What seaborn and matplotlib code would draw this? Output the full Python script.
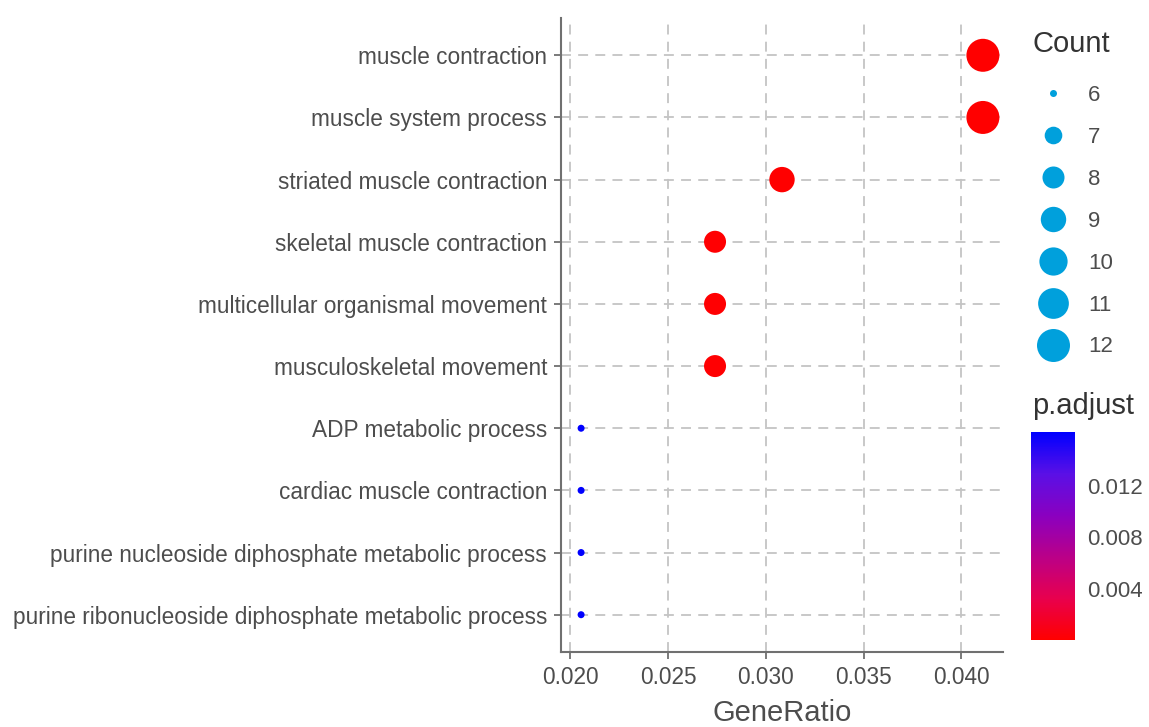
import numpy as np
import pandas as pd
import matplotlib
matplotlib.use("Agg")
import matplotlib.pyplot as plt
from matplotlib.colors import LinearSegmentedColormap, Normalize
from matplotlib.lines import Line2D
import seaborn as sns

# enrichment result (top 10 GO terms)
terms = [
    "muscle contraction",
    "muscle system process",
    "striated muscle contraction",
    "skeletal muscle contraction",
    "multicellular organismal movement",
    "musculoskeletal movement",
    "ADP metabolic process",
    "cardiac muscle contraction",
    "purine nucleoside diphosphate metabolic process",
    "purine ribonucleoside diphosphate metabolic process",
]
counts = [12, 12, 9, 8, 8, 8, 6, 6, 6, 6]
gene_ratio = [c / 292 for c in counts]
p_adjust = [2.0e-6, 2.0e-6, 1.5e-5, 9.0e-5, 9.0e-5, 9.0e-5, 0.0162, 0.0162, 0.0162, 0.0162]
count_levels = [6, 7, 8, 9, 10, 11, 12]
cbar_ticks = [0.004, 0.008, 0.012]

df = pd.DataFrame({"Description": terms, "GeneRatio": gene_ratio,
                   "Count": counts, "p.adjust": p_adjust})

sns.set_theme(style="white")
plt.rcParams["font.family"] = ["Liberation Sans", "DejaVu Sans"]

TXT = "#4D4D4D"
AX_COL = "#707070"

# red -> blue through purple (Lab-like)
cmap = LinearSegmentedColormap.from_list(
    "padj", ["#FF0000", "#E8004E", "#BA0088", "#8A00C0", "#5A10E6", "#0000FF"])
norm = Normalize(vmin=min(p_adjust), vmax=max(p_adjust))


# ggplot-like area scaling: diameter in px
def size_px(c, lo=min(count_levels), hi=max(count_levels), dmin=7.0, dmax=33.0):
    return dmin + (dmax - dmin) * np.sqrt((c - lo) / (hi - lo))


px2pt = 72 / 100
size_map = {c: (size_px(c) * px2pt) ** 2 for c in count_levels}

fig = plt.figure(figsize=(11.49, 7.27), dpi=100)
ax = fig.add_axes([561 / 1149, 1 - 652 / 727, (1003 - 561) / 1149, (652 - 18) / 727])

ax.grid(True, linestyle=(0, (5.5, 4)), color="#C4C4C4", linewidth=1.3)
ax.set_axisbelow(True)

sns.scatterplot(data=df, x="GeneRatio", y="Description", hue="p.adjust",
                palette=cmap, hue_norm=norm, size="Count", sizes=size_map,
                linewidth=0, alpha=1, legend=False, ax=ax, zorder=3)

xr = max(gene_ratio) - min(gene_ratio)
ax.set_xlim(min(gene_ratio) - 0.05 * xr, max(gene_ratio) + 0.05 * xr)
ax.set_ylim(len(terms) - 1 + 0.6, -0.6)
ax.set_xticks([0.020, 0.025, 0.030, 0.035, 0.040])
ax.set_xticklabels(["0.020", "0.025", "0.030", "0.035", "0.040"])

for side in ["top", "right"]:
    ax.spines[side].set_visible(False)
for side in ["left", "bottom"]:
    ax.spines[side].set_color(AX_COL)
    ax.spines[side].set_linewidth(1.5)
ax.tick_params(axis="both", which="both", direction="out", length=5, width=1.3,
               color=AX_COL, labelcolor=TXT, labelsize=16.3, pad=5,
               left=True, bottom=True)
ax.set_xlabel("GeneRatio", fontsize=21, color=TXT, labelpad=7)
ax.set_ylabel("")

# Count legend
handles = [Line2D([], [], linestyle="none", marker="o", markersize=size_px(c) * px2pt,
                  markerfacecolor="#00A0DC", markeredgewidth=0) for c in count_levels]
leg = fig.legend(handles, [str(c) for c in count_levels],
                 loc="upper left", bbox_to_anchor=(1020 / 1149, 1 - 74 / 727),
                 frameon=False, fontsize=16, labelspacing=0.94,
                 handletextpad=0.55, borderpad=0)
for t in leg.get_texts():
    t.set_color(TXT)
fig.text(1033 / 1149, 1 - 44 / 727, "Count", fontsize=21, color="#333333",
         ha="left", va="center")

# p.adjust colorbar
cax = fig.add_axes([1031 / 1149, 1 - 640 / 727, 44 / 1149, 208 / 727])
sm = plt.cm.ScalarMappable(cmap=cmap, norm=norm)
cb = fig.colorbar(sm, cax=cax, ticks=cbar_ticks)
cb.outline.set_visible(False)
cb.ax.set_yticklabels(["0.004", "0.008", "0.012"])
cax.tick_params(axis="y", direction="in", length=7, width=1, color="white",
                left=True, right=True, labelsize=16, labelcolor=TXT, pad=9)
fig.text(1032 / 1149, 1 - 406 / 727, "p.adjust", fontsize=21, color="#333333",
         ha="left", va="center")

fig.savefig("out.png", dpi=100, facecolor="white")
